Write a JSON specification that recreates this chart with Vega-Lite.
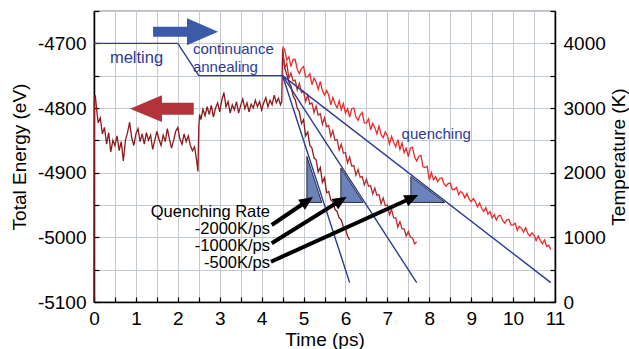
{
 "$schema": "https://vega.github.io/schema/vega-lite/v6.json",
 "width": 461, "height": 291,
 "autosize": {"type": "none"},
 "padding": {"left": 94, "top": 11, "right": 74, "bottom": 47},
 "config": {"font": "Liberation Sans", "view": {"stroke": "black", "strokeWidth": 1.2}},
 "datasets": {
  "d": [
   {"t":0,"E":-5100},{"t":0.01,"E":-4790},{"t":0.03,"E":-4780},{"t":0.06,"E":-4800},{"t":0.08,"E":-4812},{"t":0.1,"E":-4823},{"t":0.15,"E":-4815},{"t":0.2,"E":-4840},{"t":0.25,"E":-4830},{"t":0.3,"E":-4856},{"t":0.35,"E":-4838},{"t":0.4,"E":-4868},{"t":0.45,"E":-4850},{"t":0.5,"E":-4858},{"t":0.55,"E":-4843},{"t":0.6,"E":-4866},{"t":0.65,"E":-4852},{"t":0.7,"E":-4882},{"t":0.75,"E":-4850},{"t":0.8,"E":-4838},{"t":0.85,"E":-4822},{"t":0.9,"E":-4846},{"t":0.95,"E":-4858},{"t":1.0,"E":-4840},{"t":1.05,"E":-4832},{"t":1.1,"E":-4852},{"t":1.15,"E":-4840},{"t":1.2,"E":-4856},{"t":1.25,"E":-4838},{"t":1.3,"E":-4850},{"t":1.35,"E":-4842},{"t":1.4,"E":-4864},{"t":1.45,"E":-4850},{"t":1.5,"E":-4836},{"t":1.55,"E":-4848},{"t":1.6,"E":-4858},{"t":1.65,"E":-4842},{"t":1.7,"E":-4852},{"t":1.75,"E":-4832},{"t":1.8,"E":-4848},{"t":1.85,"E":-4862},{"t":1.9,"E":-4850},{"t":1.95,"E":-4836},{"t":2.0,"E":-4830},{"t":2.05,"E":-4848},{"t":2.1,"E":-4856},{"t":2.15,"E":-4840},{"t":2.2,"E":-4852},{"t":2.25,"E":-4843},{"t":2.3,"E":-4858},{"t":2.35,"E":-4866},{"t":2.4,"E":-4860},{"t":2.45,"E":-4882},{"t":2.48,"E":-4898},{"t":2.5,"E":-4830},{"t":2.52,"E":-4810},
   {"t":2.55,"E":-4818},{"t":2.6,"E":-4802},{"t":2.65,"E":-4812},{"t":2.7,"E":-4798},{"t":2.75,"E":-4810},{"t":2.8,"E":-4796},{"t":2.85,"E":-4814},{"t":2.9,"E":-4800},{"t":2.95,"E":-4792},{"t":3.0,"E":-4806},{"t":3.05,"E":-4788},{"t":3.1,"E":-4776},{"t":3.15,"E":-4798},{"t":3.2,"E":-4790},{"t":3.25,"E":-4808},{"t":3.3,"E":-4795},{"t":3.35,"E":-4803},{"t":3.4,"E":-4790},{"t":3.45,"E":-4808},{"t":3.5,"E":-4796},{"t":3.55,"E":-4786},{"t":3.6,"E":-4801},{"t":3.65,"E":-4792},{"t":3.7,"E":-4806},{"t":3.75,"E":-4794},{"t":3.8,"E":-4800},{"t":3.85,"E":-4788},{"t":3.9,"E":-4798},{"t":3.95,"E":-4790},{"t":4.0,"E":-4803},{"t":4.05,"E":-4792},{"t":4.1,"E":-4784},{"t":4.15,"E":-4798},{"t":4.2,"E":-4788},{"t":4.25,"E":-4795},{"t":4.3,"E":-4780},{"t":4.35,"E":-4792},{"t":4.4,"E":-4785},{"t":4.45,"E":-4795},{"t":4.48,"E":-4790},
   {"t":4.5,"E":-4708},{"t":4.55,"E":-4738},{"t":4.6,"E":-4748},{"t":4.65,"E":-4760},{"t":4.7,"E":-4766},{"t":4.75,"E":-4781},{"t":4.8,"E":-4787},{"t":4.85,"E":-4800},{"t":4.9,"E":-4806},{"t":4.95,"E":-4824},{"t":5.0,"E":-4818},{"t":5.05,"E":-4843},{"t":5.1,"E":-4837},{"t":5.15,"E":-4858},{"t":5.2,"E":-4862},{"t":5.25,"E":-4877},{"t":5.3,"E":-4880},{"t":5.35,"E":-4899},{"t":5.4,"E":-4892},{"t":5.45,"E":-4915},{"t":5.5,"E":-4908},{"t":5.55,"E":-4931},{"t":5.6,"E":-4929},{"t":5.65,"E":-4942},{"t":5.7,"E":-4945},{"t":5.75,"E":-4957},{"t":5.8,"E":-4960},{"t":5.85,"E":-4970},{"t":5.9,"E":-4973},{"t":5.95,"E":-4984},{"t":6.0,"E":-4987},{"t":6.05,"E":-4998},{"t":6.1,"E":-5004}
  ],
  "m": [
   {"t":4.5,"E":-4712},{"t":4.55,"E":-4738},{"t":4.6,"E":-4731},{"t":4.65,"E":-4754},{"t":4.7,"E":-4746},{"t":4.75,"E":-4758},{"t":4.8,"E":-4757},{"t":4.85,"E":-4772},{"t":4.9,"E":-4762},{"t":4.95,"E":-4776},{"t":5.0,"E":-4774},{"t":5.05,"E":-4790},{"t":5.1,"E":-4780},{"t":5.15,"E":-4794},{"t":5.2,"E":-4792},{"t":5.25,"E":-4807},{"t":5.3,"E":-4797},{"t":5.35,"E":-4811},{"t":5.4,"E":-4809},{"t":5.45,"E":-4825},{"t":5.5,"E":-4815},{"t":5.55,"E":-4829},{"t":5.6,"E":-4827},{"t":5.65,"E":-4844},{"t":5.7,"E":-4835},{"t":5.75,"E":-4850},{"t":5.8,"E":-4849},{"t":5.85,"E":-4865},{"t":5.9,"E":-4856},{"t":5.95,"E":-4870},{"t":6.0,"E":-4869},{"t":6.05,"E":-4885},{"t":6.1,"E":-4876},{"t":6.15,"E":-4890},{"t":6.2,"E":-4889},{"t":6.25,"E":-4904},{"t":6.3,"E":-4895},{"t":6.35,"E":-4907},{"t":6.4,"E":-4906},{"t":6.45,"E":-4919},{"t":6.5,"E":-4910},{"t":6.55,"E":-4921},{"t":6.6,"E":-4920},{"t":6.65,"E":-4933},{"t":6.7,"E":-4924},{"t":6.75,"E":-4935},{"t":6.8,"E":-4934},{"t":6.85,"E":-4948},{"t":6.9,"E":-4939},{"t":6.95,"E":-4951},{"t":7.0,"E":-4950},{"t":7.05,"E":-4965},{"t":7.1,"E":-4957},{"t":7.15,"E":-4970},{"t":7.2,"E":-4970},{"t":7.25,"E":-4984},{"t":7.3,"E":-4976},{"t":7.35,"E":-4987},{"t":7.4,"E":-4987},{"t":7.45,"E":-4998},{"t":7.5,"E":-4991},{"t":7.55,"E":-5000},{"t":7.6,"E":-5001},{"t":7.65,"E":-5010},{"t":7.7,"E":-5007}
  ],
  "b": [
   {"t":4.5,"E":-4705},{"t":4.55,"E":-4710},{"t":4.6,"E":-4726},{"t":4.65,"E":-4721},{"t":4.7,"E":-4736},{"t":4.75,"E":-4725},{"t":4.8,"E":-4725},{"t":4.85,"E":-4740},{"t":4.9,"E":-4747},{"t":4.95,"E":-4739},{"t":5.0,"E":-4736},{"t":5.05,"E":-4752},{"t":5.1,"E":-4752},{"t":5.15,"E":-4747},{"t":5.2,"E":-4764},{"t":5.25,"E":-4754},{"t":5.3,"E":-4760},{"t":5.35,"E":-4771},{"t":5.4,"E":-4759},{"t":5.45,"E":-4773},{"t":5.5,"E":-4780},{"t":5.55,"E":-4773},{"t":5.6,"E":-4780},{"t":5.65,"E":-4795},{"t":5.7,"E":-4784},{"t":5.75,"E":-4793},{"t":5.8,"E":-4800},{"t":5.85,"E":-4789},{"t":5.9,"E":-4803},
   {"t":5.95,"E":-4793},{"t":6.0,"E":-4808},{"t":6.05,"E":-4801},{"t":6.1,"E":-4814},{"t":6.15,"E":-4801},{"t":6.2,"E":-4800},{"t":6.25,"E":-4814},{"t":6.3,"E":-4819},{"t":6.35,"E":-4811},{"t":6.4,"E":-4807},{"t":6.45,"E":-4823},{"t":6.5,"E":-4823},{"t":6.55,"E":-4817},{"t":6.6,"E":-4834},{"t":6.65,"E":-4824},{"t":6.7,"E":-4830},{"t":6.75,"E":-4840},{"t":6.8,"E":-4828},{"t":6.85,"E":-4841},{"t":6.9,"E":-4846},{"t":6.95,"E":-4837},{"t":7.0,"E":-4843},{"t":7.05,"E":-4856},{"t":7.1,"E":-4844},{"t":7.15,"E":-4853},{"t":7.2,"E":-4860},{"t":7.25,"E":-4849},{"t":7.3,"E":-4864},
   {"t":7.35,"E":-4854},{"t":7.4,"E":-4869},{"t":7.45,"E":-4862},{"t":7.5,"E":-4875},{"t":7.55,"E":-4862},{"t":7.6,"E":-4861},{"t":7.65,"E":-4876},{"t":7.7,"E":-4882},{"t":7.75,"E":-4875},{"t":7.8,"E":-4873},{"t":7.85,"E":-4891},{"t":7.9,"E":-4892},{"t":7.95,"E":-4890},{"t":8.0,"E":-4911},
   {"t":8.05,"E":-4900},{"t":8.1,"E":-4911},{"t":8.15,"E":-4906},{"t":8.2,"E":-4914},{"t":8.25,"E":-4909},{"t":8.3,"E":-4908},{"t":8.35,"E":-4917},{"t":8.4,"E":-4921},{"t":8.45,"E":-4917},{"t":8.5,"E":-4916},{"t":8.55,"E":-4926},{"t":8.6,"E":-4926},{"t":8.65,"E":-4923},{"t":8.7,"E":-4934},{"t":8.75,"E":-4929},{"t":8.8,"E":-4932},{"t":8.85,"E":-4939},{"t":8.9,"E":-4932},{"t":8.95,"E":-4941},{"t":9.0,"E":-4945},{"t":9.05,"E":-4940},{"t":9.1,"E":-4945},{"t":9.15,"E":-4953},{"t":9.2,"E":-4947},{"t":9.25,"E":-4955},{"t":9.3,"E":-4960},{"t":9.35,"E":-4954},{"t":9.4,"E":-4964},
   {"t":9.45,"E":-4960},{"t":9.5,"E":-4970},{"t":9.55,"E":-4965},{"t":9.6,"E":-4973},{"t":9.65,"E":-4967},{"t":9.7,"E":-4966},{"t":9.75,"E":-4974},{"t":9.8,"E":-4978},{"t":9.85,"E":-4973},{"t":9.9,"E":-4972},{"t":9.95,"E":-4981},{"t":10.0,"E":-4981},{"t":10.05,"E":-4978},{"t":10.1,"E":-4989},{"t":10.15,"E":-4983},{"t":10.2,"E":-4986},{"t":10.25,"E":-4992},{"t":10.3,"E":-4985},{"t":10.35,"E":-4994},{"t":10.4,"E":-4998},{"t":10.45,"E":-4993},{"t":10.5,"E":-4997},{"t":10.55,"E":-5005},{"t":10.6,"E":-4998},{"t":10.65,"E":-5005},{"t":10.7,"E":-5010},{"t":10.75,"E":-5004},{"t":10.8,"E":-5014},{"t":10.85,"E":-5012},{"t":10.9,"E":-5019}
  ],
  "temp": [
   {"s":"a","t":0,"T":4000},{"s":"a","t":2.0,"T":4000},{"s":"a","t":2.5,"T":3500},{"s":"a","t":4.5,"T":3500},{"s":"a","t":6.1,"T":300},
   {"s":"b","t":4.5,"T":3500},{"s":"b","t":7.7,"T":300},
   {"s":"c","t":4.5,"T":3500},{"s":"c","t":10.9,"T":300}
  ],
  "tri": [
   {"k":1,"t":5.08,"T":2250,"T2":1540},{"k":1,"t":5.435,"T":1540,"T2":1540},
   {"k":2,"t":5.89,"T":2070,"T2":1540},{"k":2,"t":6.42,"T":1540,"T2":1540},
   {"k":3,"t":7.56,"T":1940,"T2":1540},{"k":3,"t":8.37,"T":1540,"T2":1540}
  ],
  "shafts": [
   {"t":4.24,"T":1191,"t2":5.068,"T2":1554},
   {"t":4.24,"T":908,"t2":5.867,"T2":1563},
   {"t":4.223,"T":623,"t2":7.564,"T2":1604}
  ],
  "heads": [
   {"t":5.226,"T":1624,"a":325.9},
   {"t":6.03,"T":1628,"a":328.15},
   {"t":7.738,"T":1655,"a":335.6}
  ],
  "blueshaft": [{"t":1.41,"t2":2.24,"T":4180}],
  "bluehead": [{"t":2.96,"T":4180}],
  "redshaft": [{"t":1.6,"t2":2.38,"T":2990}],
  "redhead": [{"t":0.86,"T":2990}],
  "btextc": [{"t":1.015,"T":3773,"label":"melting"}],
  "btextl": [{"t":2.36,"T":3912,"label":"continuance"},{"t":2.36,"T":3640,"label":"annealing"},{"t":7.34,"T":2598,"label":"quenching"}],
  "ktext": [{"t":4.2,"T":1392,"label":"Quenching Rate"},{"t":4.2,"T":1129,"label":"-2000K/ps"},{"t":4.2,"T":866,"label":"-1000K/ps"},{"t":4.2,"T":603,"label":"-500K/ps"}]
 },
 "encoding": {
  "x": {"field": "t", "type": "quantitative", "scale": {"domain": [0, 11], "nice": false, "zero": false},
   "axis": {"title": "Time (ps)", "values": [0,0.5,1,1.5,2,2.5,3,3.5,4,4.5,5,5.5,6,6.5,7,7.5,8,8.5,9,9.5,10,10.5,11],
    "labelExpr": "datum.value % 1 == 0 ? '' + datum.value : ''", "labelOverlap": false, "labelBound": false, "labelFlush": false,
    "tickSize": -5, "labelPadding": 12, "labelFontSize": 19, "titleFontSize": 19, "titleFontWeight": "normal", "titlePadding": 2,
    "grid": true, "gridColor": "#c3cad3", "gridWidth": 1, "domainColor": "black", "domainWidth": 1.5, "tickColor": "black", "tickWidth": 1.2,
    "labelColor": "black", "titleColor": "black"}}
 },
 "layer": [
  {
   "encoding": {
    "y": {"field": "E", "type": "quantitative", "scale": {"domain": [-5100, -4650], "nice": false, "zero": false},
     "axis": {"orient": "left", "title": "Total Energy (eV)", "values": [-5100,-5050,-5000,-4950,-4900,-4850,-4800,-4750,-4700,-4650],
      "labelExpr": "datum.value % 100 == 0 ? '' + datum.value : ''", "labelOverlap": false, "labelBound": false, "labelFlush": false,
      "tickSize": -5, "labelPadding": 13, "labelFontSize": 19, "titleFontSize": 19, "titleFontWeight": "normal", "titlePadding": 8,
      "grid": true, "gridColor": "#c3cad3", "gridWidth": 1, "domainColor": "black", "domainWidth": 1.5, "tickColor": "black", "tickWidth": 1.2,
      "labelColor": "black", "titleColor": "black"}}
   },
   "layer": [
    {"data": {"name": "d"}, "mark": {"type": "line", "color": "#8c1a1c", "strokeWidth": 1.3}},
    {"data": {"name": "m"}, "mark": {"type": "line", "color": "#b72a2e", "strokeWidth": 1.3}},
    {"data": {"name": "b"}, "mark": {"type": "line", "color": "#ee2a2e", "strokeWidth": 1.3}}
   ]
  },
  {
   "encoding": {
    "y": {"field": "T", "type": "quantitative", "scale": {"domain": [0, 4500], "nice": false, "zero": false},
     "axis": {"orient": "right", "title": "Temperature (K)", "values": [0,500,1000,1500,2000,2500,3000,3500,4000,4500],
      "labelExpr": "datum.value % 1000 == 0 ? '' + datum.value : ''", "labelOverlap": false, "labelBound": false, "labelFlush": false,
      "tickSize": -5, "labelPadding": 13, "labelFontSize": 19, "titleFontSize": 19, "titleFontWeight": "normal", "titlePadding": 4,
      "titleAngle": 270, "titleBaseline": "top",
      "grid": false, "domainColor": "black", "domainWidth": 1.5, "tickColor": "black", "tickWidth": 1.2,
      "labelColor": "black", "titleColor": "black"}}
   },
   "layer": [
    {"data": {"name": "temp"}, "mark": {"type": "line", "color": "#2c3a96", "strokeWidth": 1.4}, "encoding": {"detail": {"field": "s"}}},
    {"data": {"name": "tri"}, "mark": {"type": "area", "color": "#6c82bb", "opacity": 1, "stroke": "#2a2d3a", "strokeWidth": 1}, "encoding": {"y2": {"field": "T2"}, "detail": {"field": "k"}}},
    {"data": {"name": "blueshaft"}, "mark": {"type": "rule", "color": "#3b5aa8", "strokeWidth": 10, "strokeCap": "butt"}, "encoding": {"x2": {"field": "t2"}}},
    {"data": {"name": "bluehead"}, "mark": {"type": "point", "shape": "M0,0L-2.3,-1L-2.3,1Z", "size": 729, "filled": true, "color": "#3b5aa8", "opacity": 1}},
    {"data": {"name": "redshaft"}, "mark": {"type": "rule", "color": "#b3333a", "strokeWidth": 12, "strokeCap": "butt"}, "encoding": {"x2": {"field": "t2"}}},
    {"data": {"name": "redhead"}, "mark": {"type": "point", "shape": "M0,0L2.4,-1L2.4,1Z", "size": 707, "filled": true, "color": "#b3333a", "opacity": 1}},
    {"data": {"name": "shafts"}, "mark": {"type": "rule", "color": "black", "strokeWidth": 4, "strokeCap": "butt"}, "encoding": {"x2": {"field": "t2"}, "y2": {"field": "T2"}}},
    {"data": {"name": "heads"}, "mark": {"type": "point", "shape": "M0,0L-1.6,-0.7L-1.6,0.7Z", "size": 300, "filled": true, "color": "black", "opacity": 1}, "encoding": {"angle": {"field": "a", "type": "quantitative", "scale": null}}},
    {"data": {"name": "btextc"}, "mark": {"type": "text", "align": "center", "baseline": "middle", "fontSize": 16.5, "color": "#2c3a96"}, "encoding": {"text": {"field": "label"}}},
    {"data": {"name": "btextl"}, "mark": {"type": "text", "align": "left", "baseline": "middle", "fontSize": 15, "color": "#2c3a96"}, "encoding": {"text": {"field": "label"}}},
    {"data": {"name": "ktext"}, "mark": {"type": "text", "align": "right", "baseline": "middle", "fontSize": 16.5, "color": "black"}, "encoding": {"text": {"field": "label"}}}
   ]
  }
 ],
 "resolve": {"scale": {"y": "independent"}}
}
